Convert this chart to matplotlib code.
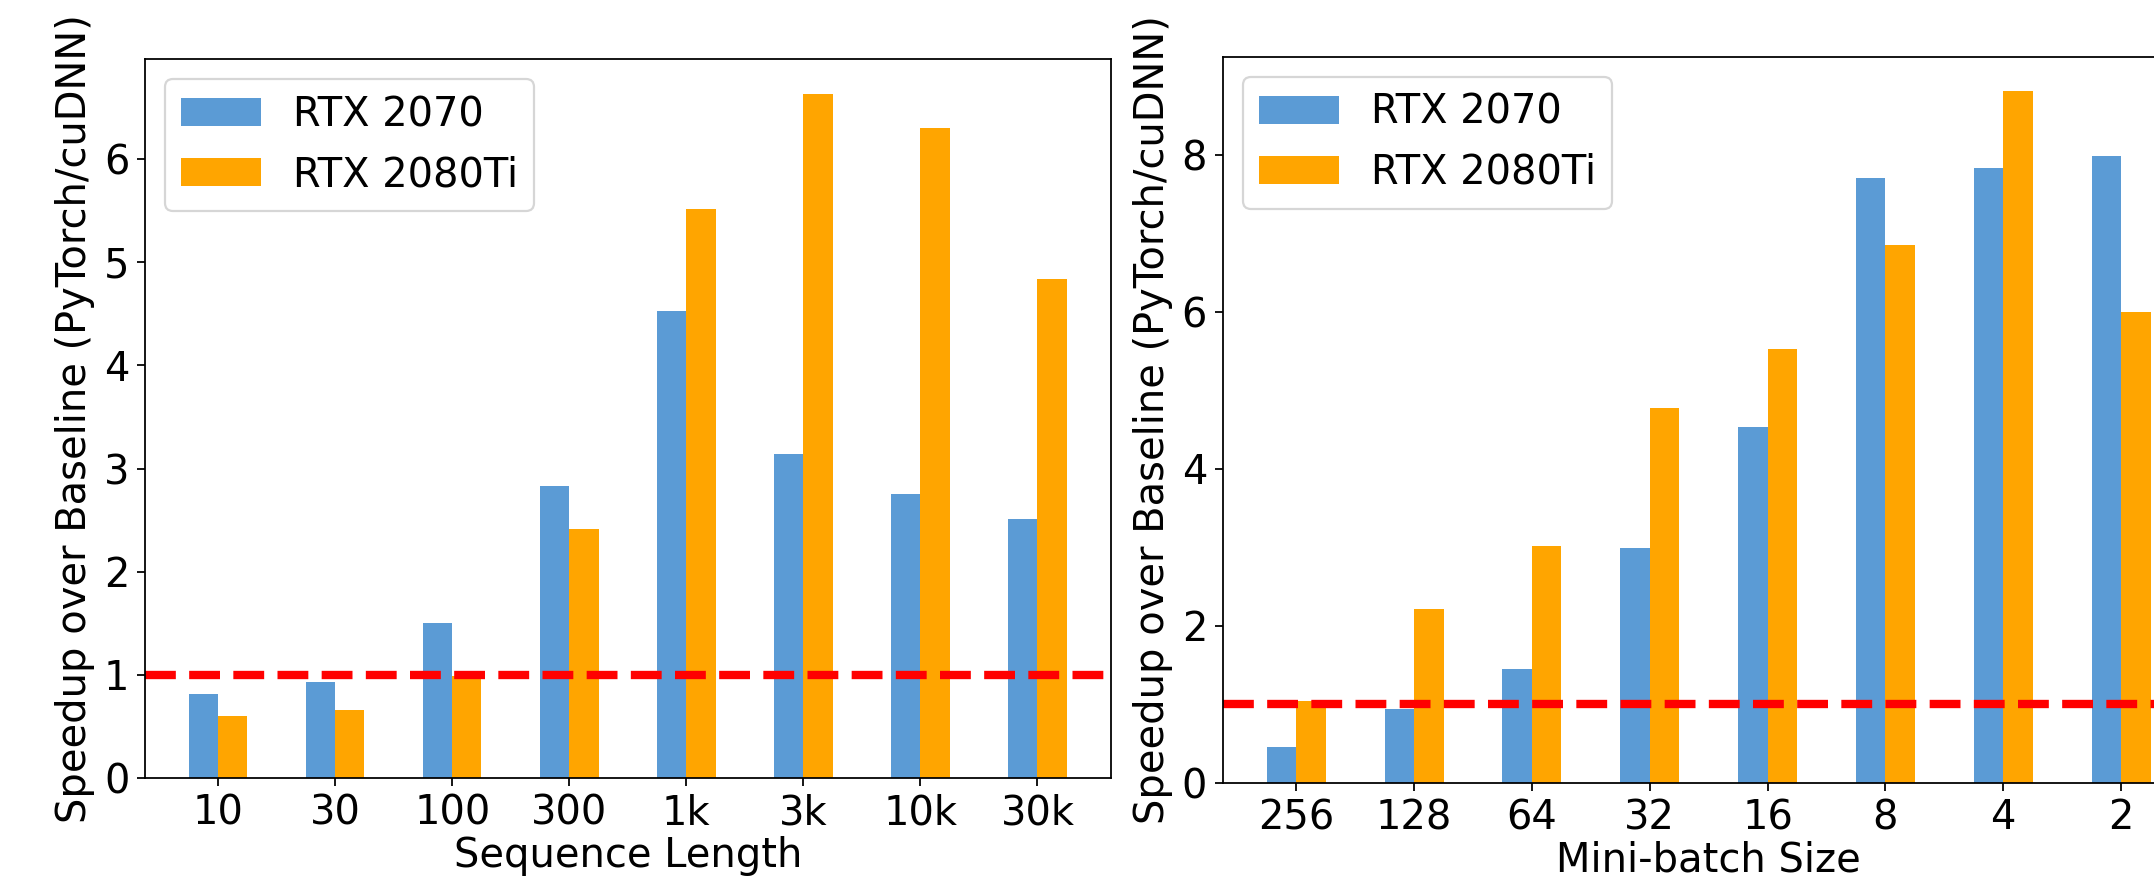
import numpy as np
import matplotlib
matplotlib.use("Agg")
import matplotlib.pyplot as plt

# dados
seq_labels = ["10", "30", "100", "300", "1k", "3k", "10k", "30k"]
seq_rtx2070 = [0.81, 0.93, 1.50, 2.83, 4.53, 3.14, 2.75, 2.51]
seq_rtx2080ti = [0.60, 0.66, 0.99, 2.41, 5.52, 6.635, 6.30, 4.84]

batch_labels = ["256", "128", "64", "32", "16", "8", "4", "2"]
batch_rtx2070 = [0.45, 0.94, 1.45, 2.99, 4.53, 7.71, 7.83, 7.98]
batch_rtx2080ti = [1.04, 2.21, 3.01, 4.78, 5.52, 6.85, 8.81, 6.00]

BASELINE = 1.0
COR_2070 = "#5B9BD5"
COR_2080 = "orange"
FS = 18
W = 0.25

plt.rcParams["font.size"] = FS

fig = plt.figure(figsize=(2154 / 160, 893 / 160), dpi=160)
ax1 = fig.add_axes([0.0673, 0.1288, 0.4483, 0.8048])
ax2 = fig.add_axes([0.5676, 0.1235, 0.4513, 0.8130])

def painel(ax, labels, a, b, xlabel):
    x = np.arange(len(labels))
    ax.bar(x - W / 2, a, W, color=COR_2070, label="RTX 2070")
    ax.bar(x + W / 2, b, W, color=COR_2080, label="RTX 2080Ti")
    ax.axhline(BASELINE, color="red", linestyle="--", linewidth=3.75)
    ax.set_xticks(x)
    ax.set_xticklabels(labels)
    ax.set_xlabel(xlabel, labelpad=1)
    ax.set_ylabel("Speedup over Baseline (PyTorch/cuDNN)")
    ax.legend(loc="upper left")

painel(ax1, seq_labels, seq_rtx2070, seq_rtx2080ti, "Sequence Length")
painel(ax2, batch_labels, batch_rtx2070, batch_rtx2080ti, "Mini-batch Size")
ax2.set_yticks([0, 2, 4, 6, 8])

fig.savefig("out.png", dpi=160)
